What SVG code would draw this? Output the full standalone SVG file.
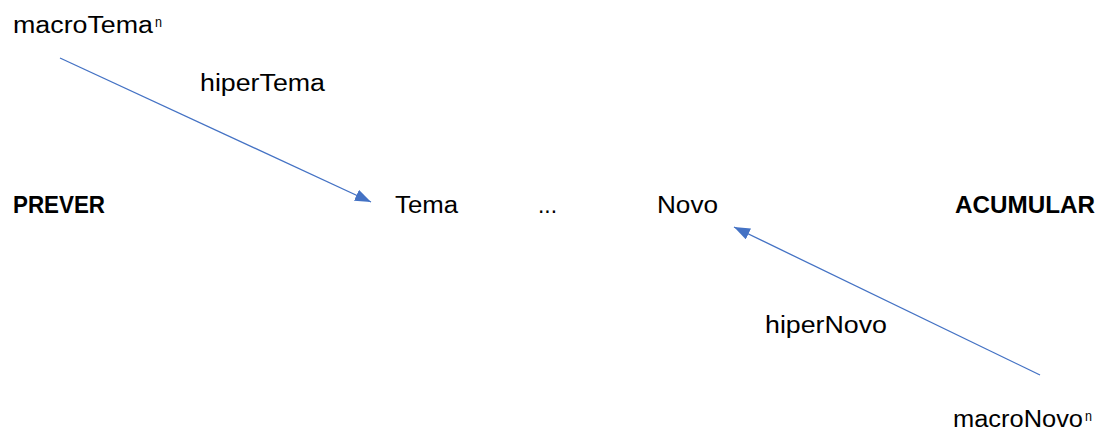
<svg xmlns="http://www.w3.org/2000/svg" width="1108" height="435" viewBox="0 0 1108 435">
<style>
text{font-family:"Liberation Sans","Open Sans",sans-serif;font-size:23px;fill:#000}
.b{font-weight:bold}
.sup{font-family:"Liberation Sans","Open Sans",sans-serif;font-size:14px;fill:#000}
.c{stroke:#4472C4;stroke-width:1.3;fill:none}
</style>
<defs>
<marker id="ah" viewBox="0 0 16 12" refX="16" refY="6" markerWidth="16" markerHeight="12" markerUnits="userSpaceOnUse" orient="auto">
<path d="M0,0 L16,6 L0,12 z" fill="#4472C4"/>
</marker>
</defs>
<rect width="1108" height="435" fill="#fff"/>
<g id="connectors">
<line class="c" x1="60" y1="58" x2="371" y2="202" marker-end="url(#ah)"/>
<line class="c" x1="1040" y1="375" x2="734" y2="227" marker-end="url(#ah)"/>
</g>
<g id="macroTema"><text x="13" y="33" textLength="140" lengthAdjust="spacingAndGlyphs">macroTema</text><text class="sup" x="155" y="27" textLength="7" lengthAdjust="spacingAndGlyphs">n</text></g>
<g id="hiperTema"><text x="200" y="91" textLength="125" lengthAdjust="spacingAndGlyphs">hiperTema</text></g>
<g id="prever"><text class="b" x="13" y="213" textLength="92" lengthAdjust="spacingAndGlyphs">PREVER</text></g>
<g id="tema"><text x="395" y="213" textLength="63" lengthAdjust="spacingAndGlyphs">Tema</text></g>
<g id="dots"><text x="538" y="213" textLength="19" lengthAdjust="spacingAndGlyphs">...</text></g>
<g id="novo"><text x="657" y="213" textLength="61" lengthAdjust="spacingAndGlyphs">Novo</text></g>
<g id="acumular"><text class="b" x="955" y="213" textLength="140" lengthAdjust="spacingAndGlyphs">ACUMULAR</text></g>
<g id="hiperNovo"><text x="765" y="333" textLength="122" lengthAdjust="spacingAndGlyphs">hiperNovo</text></g>
<g id="macroNovo"><text x="953" y="427" textLength="130" lengthAdjust="spacingAndGlyphs">macroNovo</text><text class="sup" x="1085" y="421" textLength="7" lengthAdjust="spacingAndGlyphs">n</text></g>
</svg>
